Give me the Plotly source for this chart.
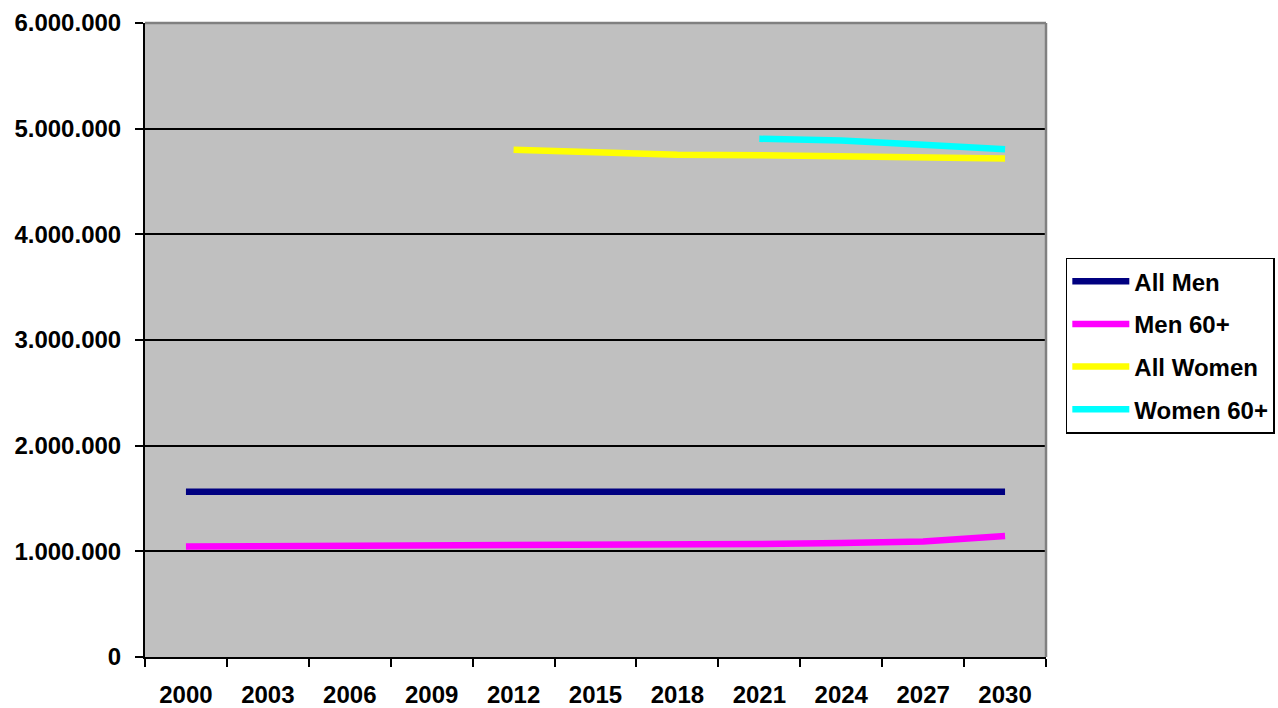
import plotly.graph_objects as go

# Population projection by group, every third year
years = ["2000", "2003", "2006", "2009", "2012", "2015", "2018", "2021", "2024", "2027", "2030"]

all_men = [1563000, 1563000, 1563000, 1563000, 1563000, 1563000,
           1563000, 1563000, 1563000, 1563000, 1563000]
men_60 = [1045000, 1047000, 1048000, 1050000, 1051000, 1056000,
          1063000, 1070000, 1078000, 1092000, 1146000]
all_women = [None, None, None, None, 4800000, 4776000,
             4752000, 4749000, 4736000, 4727000, 4717000]
women_60 = [None, None, None, None, None, None,
            None, 4904000, 4888000, 4847000, 4806000]

series_names = ["All Men", "Men 60+", "All Women", "Women 60+"]
series_values = [all_men, men_60, all_women, women_60]
series_colors = ["#000080", "#FF00FF", "#FFFF00", "#00FFFF"]

y_ticks = [0, 1000000, 2000000, 3000000, 4000000, 5000000, 6000000]

FONT = dict(family="Liberation Sans, Arial, sans-serif", size=24, color="black", weight="bold")

fig = go.Figure()
for name, vals, col in zip(series_names, series_values, series_colors):
    fig.add_trace(go.Scatter(
        x=years, y=vals, name=name, mode="lines",
        line=dict(color=col, width=6.5),
        connectgaps=False, legendgroup=name,
    ))

fig.update_layout(
    width=1278, height=708,
    margin=dict(l=145, r=232, t=23, b=51, autoexpand=False),
    paper_bgcolor="white",
    plot_bgcolor="#C0C0C0",
    separators=",.",
    font=FONT,
    showlegend=True,
    legend=dict(
        x=1.022, xanchor="left", y=0.630, yanchor="top",
        bgcolor="white", bordercolor="black", borderwidth=1.5,
        font=FONT, itemwidth=57, tracegroupgap=8.5,
    ),
    xaxis=dict(
        type="category", range=[-0.5, 10.5], automargin=False,
        tickson="boundaries", ticks="outside", ticklen=8, tickwidth=1.5,
        tickcolor="black", showgrid=False, zeroline=False,
        showline=True, linecolor="black", linewidth=2,
        ticklabelstandoff=15, tickfont=FONT,
    ),
    yaxis=dict(
        range=[0, 6000000], tickvals=y_ticks, tickformat=",d", automargin=False,
        ticks="outside", ticklen=8, tickwidth=1.5, tickcolor="black",
        showgrid=True, gridcolor="black", gridwidth=1.5, zeroline=False,
        showline=True, linecolor="black", linewidth=2,
        ticklabelstandoff=9, tickfont=FONT,
    ),
    shapes=[
        # grey frame on the top and right sides of the plot area
        dict(type="line", xref="paper", yref="paper", x0=0, x1=1, y0=1, y1=1,
             line=dict(color="#808080", width=2.5), layer="above"),
        dict(type="line", xref="paper", yref="paper", x0=1, x1=1, y0=0, y1=1,
             line=dict(color="#808080", width=2.5), layer="above"),
    ],
)

fig.write_html("out.html")
